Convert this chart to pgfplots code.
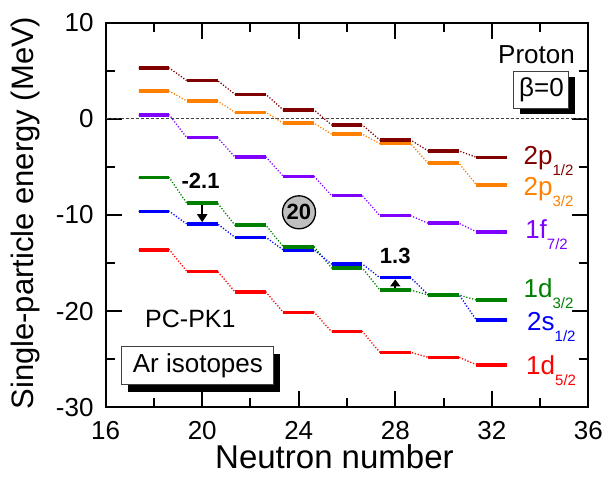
\documentclass[border=0pt]{standalone}
\usepackage{pgfplots}
\pgfplotsset{compat=1.18}
\usepackage{pgfplotstable}
\usepackage{fontspec}
\setmainfont{Liberation Sans}
\usetikzlibrary{arrows.meta}
\definecolor{cA}{RGB}{128,0,0}
\definecolor{cB}{RGB}{255,128,0}
\definecolor{cC}{RGB}{128,0,255}
\definecolor{cD}{RGB}{0,128,0}
\definecolor{cE}{RGB}{0,0,255}
\definecolor{cF}{RGB}{255,0,0}
\newcommand\fs[1]{\fontsize{#1bp}{#1bp}\selectfont}

% levels: neutron number N, energy E (MeV)
\pgfplotstableread{
N E
18 5.28
20 3.97
22 2.55
24 0.92
26 -0.64
28 -2.20
30 -3.34
32 -4.00
}\tabA
\pgfplotstableread{
N E
18 2.87
20 1.86
22 0.68
24 -0.46
26 -1.60
28 -2.58
30 -4.62
32 -6.85
}\tabB
\pgfplotstableread{
N E
18 0.40
20 -1.96
22 -3.97
24 -5.98
26 -7.99
28 -10.07
30 -10.86
32 -11.74
}\tabC
\pgfplotstableread{
N E
18 -6.12
20 -8.78
22 -11.07
24 -13.30
26 -15.51
28 -17.80
30 -18.32
32 -18.84
}\tabD
\pgfplotstableread{
N E
18 -9.62
20 -10.94
22 -12.32
24 -13.64
26 -15.10
28 -16.52
30 -18.28
32 -20.92
}\tabE
\pgfplotstableread{
N E
18 -13.61
20 -15.86
22 -18.01
24 -20.12
26 -22.13
28 -24.28
30 -24.80
32 -25.57
}\tabF

\pgfplotsset{
  conn/.style={#1, line width=1.3bp, dash pattern=on 1.2bp off 1.8bp, mark=none},
  lev/.style={draw=none, mark=none, forget plot,
    error bars/.cd, x dir=both, x fixed=0.64, error mark=none,
    error bar style={draw=#1, solid, line width=3.6bp, line cap=butt}},
}

\begin{document}
\begin{tikzpicture}
\begin{axis}[
  scale only axis, width=482.6bp, height=384.6bp,
  xmin=16, xmax=36, ymin=-30, ymax=10,
  xtick={16,20,...,36}, ytick={-30,-20,...,10},
  minor x tick num=1, minor y tick num=1,
  tick align=inside, major tick length=16bp, minor tick length=9bp,
  axis line style={line width=2.2bp},
  tick style={line width=2bp, black},
  /pgf/number format/assume math mode=true,
  ticklabel style={font=\fs{26}},
  xticklabel style={inner sep=0pt, yshift=-14bp},
  yticklabel style={inner sep=0pt, xshift=-12bp},
  xlabel={Neutron number}, ylabel={Single-particle energy (MeV)},
  xlabel style={font=\fs{33}, at={(axis description cs:0.474,-0.16)}, anchor=base},
  ylabel style={font=\fs{31}, at={(axis description cs:-0.167,0.505)}, anchor=center},
  clip=false,
]
\coordinate (SW) at (rel axis cs:0,0);
\coordinate (NE) at (rel axis cs:1,1);

\addplot[black!75, line width=1.3bp, dash pattern=on 3bp off 2bp] coordinates {(16,0) (36,0)};

% connectors
\addplot[conn=cA] coordinates {(17.36,5.28)(18.64,5.28)(19.36,3.97)(20.64,3.97)(21.36,2.55)(22.64,2.55)(23.36,0.92)(24.64,0.92)(25.36,-0.64)(26.64,-0.64)(27.36,-2.20)(28.64,-2.20)(29.36,-3.34)(30.64,-3.34)(31.36,-4.00)(32.64,-4.00)};
\addplot[conn=cB] coordinates {(17.36,2.87)(18.64,2.87)(19.36,1.86)(20.64,1.86)(21.36,0.68)(22.64,0.68)(23.36,-0.46)(24.64,-0.46)(25.36,-1.60)(26.64,-1.60)(27.36,-2.58)(28.64,-2.58)(29.36,-4.62)(30.64,-4.62)(31.36,-6.85)(32.64,-6.85)};
\addplot[conn=cC] coordinates {(17.36,0.40)(18.64,0.40)(19.36,-1.96)(20.64,-1.96)(21.36,-3.97)(22.64,-3.97)(23.36,-5.98)(24.64,-5.98)(25.36,-7.99)(26.64,-7.99)(27.36,-10.07)(28.64,-10.07)(29.36,-10.86)(30.64,-10.86)(31.36,-11.74)(32.64,-11.74)};
\addplot[conn=cD] coordinates {(17.36,-6.12)(18.64,-6.12)(19.36,-8.78)(20.64,-8.78)(21.36,-11.07)(22.64,-11.07)(23.36,-13.30)(24.64,-13.30)(25.36,-15.51)(26.64,-15.51)(27.36,-17.80)(28.64,-17.80)(29.36,-18.32)(30.64,-18.32)(31.36,-18.84)(32.64,-18.84)};
\addplot[conn=cE] coordinates {(17.36,-9.62)(18.64,-9.62)(19.36,-10.94)(20.64,-10.94)(21.36,-12.32)(22.64,-12.32)(23.36,-13.64)(24.64,-13.64)(25.36,-15.10)(26.64,-15.10)(27.36,-16.52)(28.64,-16.52)(29.36,-18.28)(30.64,-18.28)(31.36,-20.92)(32.64,-20.92)};
\addplot[conn=cF] coordinates {(17.36,-13.61)(18.64,-13.61)(19.36,-15.86)(20.64,-15.86)(21.36,-18.01)(22.64,-18.01)(23.36,-20.12)(24.64,-20.12)(25.36,-22.13)(26.64,-22.13)(27.36,-24.28)(28.64,-24.28)(29.36,-24.80)(30.64,-24.80)(31.36,-25.57)(32.64,-25.57)};

% levels
\addplot[lev=cA] table[x=N,y=E] {\tabA};
\addplot[lev=cB] table[x=N,y=E] {\tabB};
\addplot[lev=cC] table[x=N,y=E] {\tabC};
\addplot[lev=cE] table[x=N,y=E] {\tabE};
\addplot[lev=cD] table[x=N,y=E] {\tabD};
\addplot[lev=cF] table[x=N,y=E] {\tabF};

% arrows and annotations
\draw[-{Triangle[length=8bp,width=10bp]}, line width=1.8bp] (axis cs:20,-8.97) -- (axis cs:20,-10.75);
\draw[-{Triangle[length=7bp,width=10bp]}, line width=1.8bp] (axis cs:28,-17.62) -- (axis cs:28,-16.70);
\node[font=\fs{22}\bfseries] at (axis cs:19.93,-6.43) {-2.1};
\node[font=\fs{22}\bfseries] at (axis cs:28.0,-14.24) {1.3};
\node[circle, draw=black, fill=black!25, line width=1.3bp, minimum size=33bp, inner sep=0pt, font=\fs{22}\bfseries] at (axis cs:24.01,-9.72) {20};

\node[anchor=base west, inner sep=0pt, font=\fs{25}] at (axis cs:17.63,-21.75) {PC-PK1};

\node[fill=black, minimum width=152bp, minimum height=38bp, inner sep=0pt, xshift=6.5bp, yshift=-7bp] at (axis cs:19.82,-25.69) {};
\node[fill=white, draw=black!75, line width=1bp, minimum width=152bp, minimum height=38bp, inner sep=0pt, font=\fs{26}] at (axis cs:19.82,-25.69) {Ar isotopes};

\node[anchor=base east, inner sep=0pt, font=\fs{26}] at (axis cs:35.45,5.78) {Proton};
\node[fill=black, minimum width=55bp, minimum height=37bp, inner sep=0pt, xshift=6bp, yshift=-6bp] at (axis cs:34.06,3.03) {};
\node[fill=white, draw=black!75, line width=1bp, minimum width=55bp, minimum height=37bp, inner sep=0pt, font=\fs{26}] at (axis cs:34.06,3.03) {β=0};

\node[anchor=base west, inner sep=0pt, text=cA, font=\fs{26}] at (axis cs:33.31,-4.70) {2p\raisebox{-11bp}{\fs{15}1/2}};
\node[anchor=base west, inner sep=0pt, text=cB, font=\fs{26}] at (axis cs:33.31,-7.92) {2p\raisebox{-11bp}{\fs{15}3/2}};
\node[anchor=base west, inner sep=0pt, text=cC, font=\fs{26}] at (axis cs:33.38,-12.42) {1f\raisebox{-11bp}{\fs{15}7/2}};
\node[anchor=base west, inner sep=0pt, text=cD, font=\fs{26}] at (axis cs:33.31,-18.56) {1d\raisebox{-11bp}{\fs{15}3/2}};
\node[anchor=base west, inner sep=0pt, text=cE, font=\fs{26}] at (axis cs:33.46,-22.03) {2s\raisebox{-11bp}{\fs{15}1/2}};
\node[anchor=base west, inner sep=0pt, text=cF, font=\fs{26}] at (axis cs:33.42,-26.54) {1d\raisebox{-11bp}{\fs{15}5/2}};
\end{axis}
\pgfresetboundingbox
\path (SW) ++(-105.7bp,-71.7bp) rectangle ([shift={(19.7bp,22.7bp)}]NE);
\end{tikzpicture}
\end{document}
